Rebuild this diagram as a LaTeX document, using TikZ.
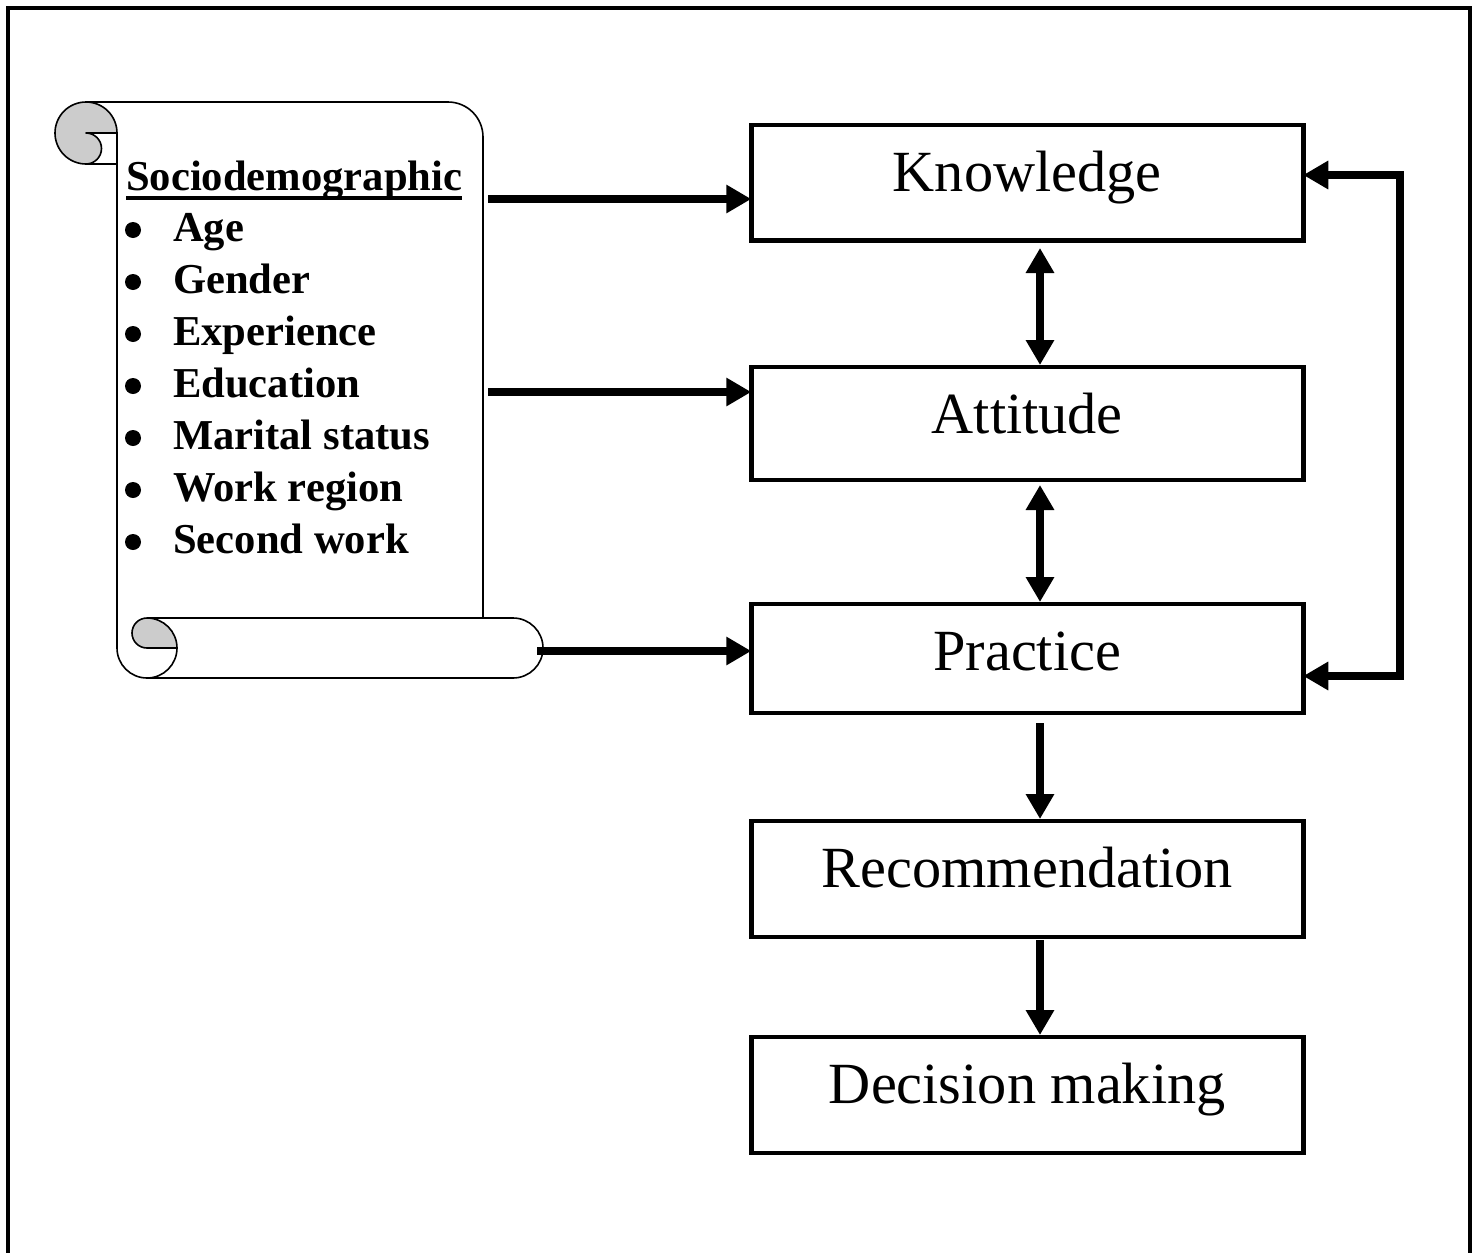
\documentclass[tikz,border=0pt]{standalone}
\usepackage{fontspec}
\setmainfont{Liberation Serif}
\usetikzlibrary{arrows.meta}
\begin{document}
\begin{tikzpicture}[x=1pt,y=1pt,
  box/.style={draw, line width=4.5pt, minimum width=552pt, inner xsep=0pt, inner ysep=0pt, outer sep=0pt,
    text height=66pt, font=\fontsize{58.3}{70}\selectfont, anchor=north},
  item/.style={anchor=base west, inner sep=0pt, font=\bfseries\fontsize{42.6}{50}\selectfont},
  bul/.style={circle, fill, inner sep=0pt, minimum size=16pt},
  tip/.tip={Triangle[length=25pt,width=27pt]},
  conn/.style={line width=8pt, -tip},
  dconn/.style={line width=8pt, tip-tip},
  scroll/.style={line width=1.6pt, line join=round}
]
\useasboundingbox (0,0) rectangle (1478,-1253);
\draw[line width=4.5pt] (8,-1300) -- (8,-8) -- (1470,-8) -- (1470,-1300);

% boxes
\node[box, text depth=49.5pt] (K) at (1027.25,-125) {Knowledge};
\node[box, text depth=47pt] (A) at (1027.25,-367) {Attitude};
\node[box, text depth=43pt] (P) at (1027.25,-604) {Practice};
\node[box, text depth=50pt] (R) at (1027.25,-821) {Recommendation};
\node[box, text depth=50pt] (D) at (1027.25,-1037) {Decision making};

% scroll shape
\draw[scroll] (86,-102) -- (448,-102) arc[start angle=90,end angle=0,radius=35] -- (483,-618);
\draw[scroll] (117,-133) -- (117,-648) arc[start angle=180,end angle=270,radius=30]
  -- (513,-678) arc[start angle=-90,end angle=90,radius=30] -- (147,-618);
\draw[scroll, fill=gray!40] (117,-133) arc[start angle=0,end angle=270,radius=31]
  arc[start angle=-90,end angle=90,radius=15.5] -- cycle;
\draw[scroll] (86,-164) -- (117,-164);
\draw[scroll, fill=gray!40] (147,-618) arc[start angle=90,end angle=0,radius=30] -- (147,-648)
  arc[start angle=-90,end angle=-270,radius=15] -- cycle;
\draw[scroll] (177,-648) arc[start angle=0,end angle=-90,radius=30];

% scroll text
\node[item] (title) at (126,-190) {Sociodemographic\ };
\draw[line width=4pt] ([yshift=-8pt]title.base west) -- ([yshift=-8pt]title.base east);
\node[bul] (b1) at (133,-230) {};
\node[item] (i1) at (173,-241) {Age};
\node[bul] (b2) at (133,-282) {};
\node[item] (i2) at (173,-293) {Gender};
\node[bul] (b3) at (133,-334) {};
\node[item] (i3) at (173,-345) {Experience};
\node[bul] (b4) at (133,-386) {};
\node[item] (i4) at (173,-397) {Education};
\node[bul] (b5) at (133,-438) {};
\node[item] (i5) at (173,-449) {Marital status};
\node[bul] (b6) at (133,-490) {};
\node[item] (i6) at (173,-501) {Work region};
\node[bul] (b7) at (133,-542) {};
\node[item] (i7) at (173,-553) {Second work};

% connectors from scroll
\coordinate (s1) at (488,-199);
\coordinate (s2) at (488,-392);
\coordinate (s3) at (537,-651);
\draw[conn] (s1) -- ([yshift=-16.25pt]K.west);
\draw[conn] (s2) -- ([yshift=31.5pt]A.west);
\draw[conn] (s3) -- ([yshift=7.5pt]P.west);

% vertical connectors
\draw[dconn] ([xshift=12.75pt,yshift=-7.5pt]K.south) -- ([xshift=12.75pt,yshift=2pt]A.north);
\draw[dconn] ([xshift=12.75pt,yshift=-5pt]A.south) -- ([xshift=12.75pt,yshift=2pt]P.north);
\draw[conn] ([xshift=12.75pt,yshift=-10pt]P.south) -- ([xshift=12.75pt,yshift=2pt]R.north);
\draw[conn] ([xshift=12.75pt,yshift=-3pt]R.south) -- ([xshift=12.75pt,yshift=2pt]D.north);

% feedback loop
\coordinate (fb) at (1400,-175);
\draw[line width=7.5pt, tip-tip, line join=miter] ([yshift=-17.5pt]P.east) -| (fb) -- ([yshift=7.75pt]K.east);
\end{tikzpicture}
\end{document}
